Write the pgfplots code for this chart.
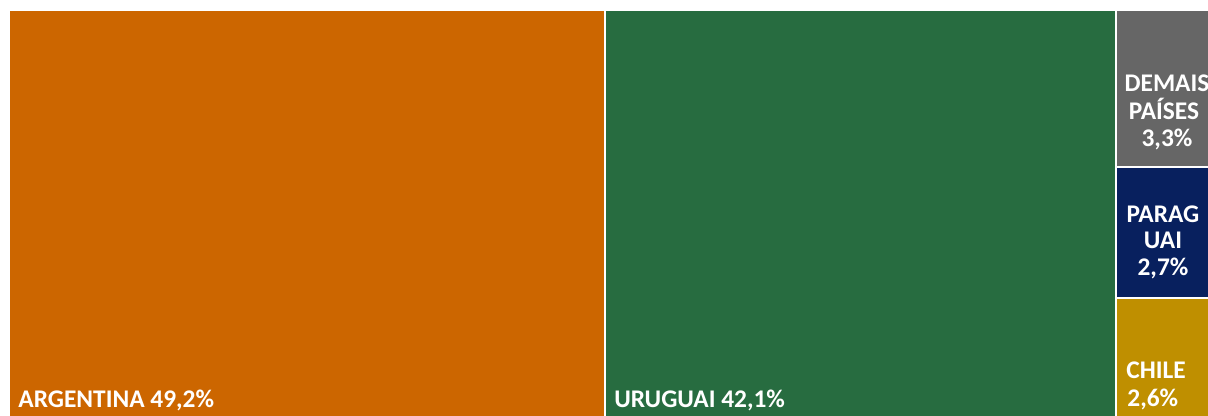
\documentclass[border=0pt]{standalone}
\usepackage{fontspec}
\setmainfont{Carlito}
\usepackage{pgfplots}
\pgfplotsset{compat=1.18}
\definecolor{cOrange}{HTML}{CC6600}
\definecolor{cGreen}{HTML}{276C40}
\definecolor{cGray}{HTML}{666666}
\definecolor{cNavy}{HTML}{08205E}
\definecolor{cGold}{HTML}{BF8F00}
\tikzset{lbl/.style={font=\fontsize{12.7}{14}\selectfont\bfseries, text=white, inner sep=0pt}}
\begin{document}
\begin{tikzpicture}
\begin{axis}[
  x=0.5pt, y=0.5pt,
  xmin=0, xmax=1208, ymin=0, ymax=416,
  y dir=reverse,
  hide axis,
  clip=true,
]
% treemap tiles (pixel coordinates of the reference)
\addplot[fill=cOrange, draw=white, line width=1pt] coordinates {(9,10) (605,10) (605,420) (9,420) (9,10)};
\addplot[fill=cGreen, draw=white, line width=1pt] coordinates {(605,10) (1116,10) (1116,420) (605,420) (605,10)};
\addplot[fill=cGray, draw=white, line width=1pt] coordinates {(1116,10) (1215,10) (1215,167) (1116,167) (1116,10)};
\addplot[fill=cNavy, draw=white, line width=1pt] coordinates {(1116,167) (1215,167) (1215,298) (1116,298) (1116,167)};
\addplot[fill=cGold, draw=white, line width=1pt] coordinates {(1116,298) (1215,298) (1215,420) (1116,420) (1116,298)};
% labels
\node[lbl, anchor=base west] at (axis cs:18,407) {ARGENTINA 49,2\%};
\node[lbl, anchor=base west] at (axis cs:614,407) {URUGUAI 42,1\%};
\node[lbl, anchor=base] at (axis cs:1167,92) {DEMAIS};
\node[lbl, anchor=base] at (axis cs:1164,120) {PAÍSES};
\node[lbl, anchor=base] at (axis cs:1167,147) {3,3\%};
\node[lbl, anchor=base] at (axis cs:1163,223) {PARAG};
\node[lbl, anchor=base] at (axis cs:1163,249) {UAI};
\node[lbl, anchor=base] at (axis cs:1163,276) {2,7\%};
\node[lbl, anchor=base west] at (axis cs:1126,378) {CHILE};
\node[lbl, anchor=base west] at (axis cs:1127,406) {2,6\%};
\end{axis}
\pgfresetboundingbox
\useasboundingbox (current axis.south west) rectangle (current axis.north east);
\end{tikzpicture}
\end{document}
